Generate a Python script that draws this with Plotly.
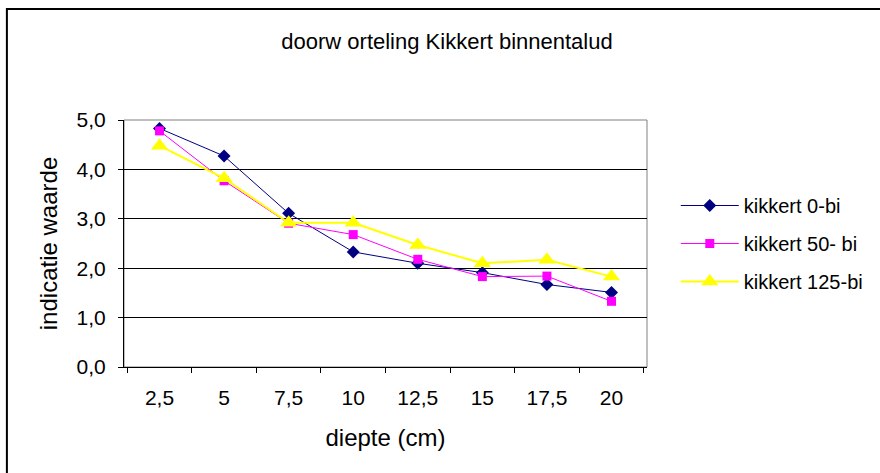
import plotly.graph_objects as go

# Depth categories (cm) and indicator values per series
diepte = ["2,5", "5", "7,5", "10", "12,5", "15", "17,5", "20"]
kikkert_0 = [4.83, 4.27, 3.11, 2.33, 2.10, 1.91, 1.67, 1.51]
kikkert_50 = [4.78, 3.77, 2.91, 2.68, 2.18, 1.83, 1.84, 1.33]
kikkert_125 = [4.48, 3.82, 2.92, 2.92, 2.47, 2.10, 2.17, 1.83]

y_ticks = [0, 1, 2, 3, 4, 5]

FONT = "Liberation Sans, Arial, sans-serif"
FS = 20

fig = go.Figure()
fig.add_trace(go.Scatter(
    x=diepte, y=kikkert_0, name="kikkert 0-bi", mode="lines+markers",
    line=dict(color="#000080", width=1),
    marker=dict(symbol="diamond", size=10, color="#000080"),
    legendgroup="a",
))
fig.add_trace(go.Scatter(
    x=diepte, y=kikkert_50, name="kikkert 50- bi", mode="lines+markers",
    line=dict(color="#FF00FF", width=1),
    marker=dict(symbol="square", size=9, color="#FF00FF"),
    legendgroup="b",
))
fig.add_trace(go.Scatter(
    x=diepte, y=kikkert_125, name="kikkert 125-bi", mode="lines+markers",
    line=dict(color="#FFFF00", width=2),
    marker=dict(symbol="triangle-up", size=15, color="#FFFF00"),
    legendgroup="c",
))

# outer chart frame
fig.add_shape(type="rect", xref="paper", yref="paper",
              x0=(6 - 124) / 527, x1=2.0, y0=-1.0, y1=(367 - 9) / 247,
              line=dict(color="black", width=2), layer="below")
# plot-area border
fig.add_shape(type="rect", xref="paper", yref="paper",
              x0=0, x1=1, y0=0, y1=1,
              line=dict(color="#808080", width=1), layer="below")

fig.update_layout(
    width=880, height=473,
    margin=dict(l=124, r=229, t=120, b=106),
    paper_bgcolor="white", plot_bgcolor="white",
    font=dict(family=FONT, size=FS, color="black"),
    separators=",.",
    title=dict(text="doorw orteling Kikkert binnentalud",
               x=447 / 880, xanchor="center", xref="container",
               y=1 - 41 / 473, yanchor="middle", yref="container",
               font=dict(size=22, color="black")),
    legend=dict(x=(680 - 124) / 527, xanchor="left", y=0.5, yanchor="middle",
                font=dict(size=FS), itemwidth=58, tracegroupgap=9,
                bgcolor="rgba(0,0,0,0)"),
    showlegend=True,
)

fig.update_xaxes(
    type="category", showgrid=False, showline=True, linecolor="black", linewidth=1,
    ticks="outside", ticklen=5, tickcolor="black", tickson="boundaries",
    ticklabelstandoff=12,
    title=dict(text="diepte (cm)", standoff=20),
    tickfont=dict(size=21), zeroline=False,
)
fig.update_yaxes(
    range=[0, 5], tickvals=y_ticks, tickformat=".1f",
    showgrid=True, gridcolor="black", gridwidth=1,
    showline=True, linecolor="black", linewidth=1,
    ticks="outside", ticklen=5, tickcolor="black", ticklabelstandoff=8,
    title=dict(text="indicatie waarde", standoff=12),
    tickfont=dict(size=21), zeroline=False,
)

fig.write_html("out.html")
